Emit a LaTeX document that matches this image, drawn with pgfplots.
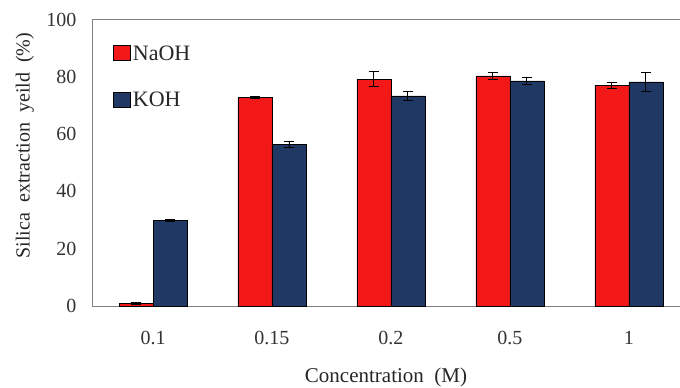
\documentclass[border=0pt]{standalone}
\usepackage{pgfplots}
\pgfplotsset{compat=1.18}
\usepackage{fontspec}
\setmainfont{Liberation Serif}
\definecolor{naoh}{RGB}{242,24,24}
\definecolor{koh}{RGB}{31,56,100}
\definecolor{axisgray}{RGB}{128,128,128}
\pgfplotstableread{
x y e
0 1.0 0.3
1 72.8 0.3
2 79.2 2.6
3 80.3 1.2
4 77.0 1.2
}\naohdata
\pgfplotstableread{
x y e
0 29.8 0.4
1 56.3 1.0
2 73.3 1.6
3 78.6 1.2
4 78.2 3.2
}\kohdata
\begin{document}
\begin{tikzpicture}
\useasboundingbox (-92bp,-82bp) rectangle (588bp,306bp);
\begin{axis}[
  at={(0,0)}, anchor=south west,
  scale only axis, width=588bp, height=286.5bp,
  xmin=-0.513, xmax=4.43, ymin=0, ymax=100,
  ybar=0pt, bar width=34bp,
  axis x line*=box, axis y line*=left,
  axis line style={axisgray, line width=0.8bp},
  xtick={0,1,2,3,4}, xticklabels={0.1,0.15,0.2,0.5,1},
  ytick={0,20,40,60,80,100},
  major tick length=0pt,
  tick label style={font=\fontsize{20bp}{24bp}\selectfont, text=black!80},
  /pgf/number format/assume math mode=true,
  xticklabel style={yshift=-22bp},
  yticklabel style={xshift=-12bp},
  xlabel={Concentration\ \ (M)},
  ylabel={Silica\ \ extraction\ \ yeild\ \ (\%)},
  label style={font=\fontsize{21bp}{25bp}\selectfont, text=black!85},
  xlabel style={at={(axis description cs:0.5,-0.248)}, anchor=center},
  ylabel style={at={(axis description cs:-0.114,0.56)}, anchor=center, font=\fontsize{20bp}{24bp}\selectfont},
  legend style={draw=none, fill=none, at={(axis description cs:0.036,0.916)}, anchor=north west,
    font=\fontsize{22bp}{26bp}\selectfont, inner sep=0pt, row sep=26bp, text=black!85,
    legend cell align=left},
  legend image code/.code={\draw[#1, draw=black, line width=0.6bp] (0bp,-7bp) rectangle (17bp,8bp);},
  error bars/error bar style={black, line width=0.9bp},
  error bars/error mark options={rotate=90, mark size=5bp, line width=0.9bp, black},
]
\addplot[fill=naoh, draw=black, line width=0.6bp,
  error bars/.cd, y dir=both, y explicit] table[x=x, y=y, y error=e] {\naohdata};
\addlegendentry{NaOH}
\addplot[fill=koh, draw=black, line width=0.6bp,
  error bars/.cd, y dir=both, y explicit] table[x=x, y=y, y error=e] {\kohdata};
\addlegendentry{KOH}
\end{axis}
\end{tikzpicture}
\end{document}
